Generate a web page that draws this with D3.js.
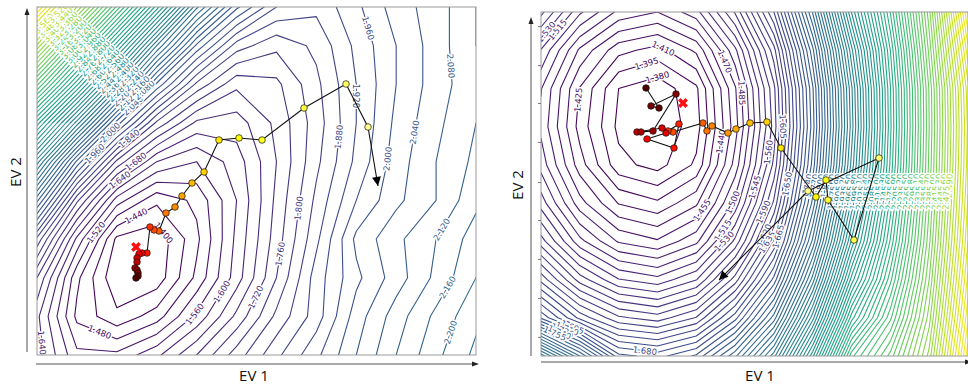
<!DOCTYPE html>
<html>
<head>
<meta charset="utf-8">
<script src="https://cdn.jsdelivr.net/npm/d3@7"></script>
<style>
  body { margin: 0; background: #fff; }
  svg text { font-family: "DejaVu Sans", sans-serif; }
  .title { font-family: "Open Sans", sans-serif; font-size: 15px; fill: #111; }
</style>
</head>
<body>
<svg id="chart" width="968" height="386"></svg>
<script>
// loss landscape, rows top -> bottom, cols left -> right
const leftLoss = [
  [3.77, 3.40, 3.03, 2.66, 2.29, 2.05, 1.92, 1.89, 1.95, 2.02, 2.06, 2.12],
  [3.43, 3.06, 2.69, 2.32, 2.03, 1.86, 1.81, 1.85, 1.93, 2.00, 2.06, 2.12],
  [3.09, 2.73, 2.36, 2.03, 1.83, 1.73, 1.75, 1.83, 1.92, 2.00, 2.06, 2.11],
  [2.74, 2.38, 2.02, 1.79, 1.67, 1.66, 1.73, 1.82, 1.92, 2.01, 2.07, 2.12],
  [2.42, 2.03, 1.75, 1.60, 1.56, 1.62, 1.72, 1.83, 1.93, 2.02, 2.08, 2.13],
  [2.13, 1.77, 1.54, 1.45, 1.49, 1.60, 1.73, 1.85, 1.96, 2.03, 2.08, 2.15],
  [1.87, 1.59, 1.39, 1.37, 1.47, 1.61, 1.74, 1.87, 2.01, 2.07, 2.12, 2.18],
  [1.72, 1.49, 1.365, 1.375, 1.49, 1.62, 1.76, 1.90, 1.99, 2.06, 2.13, 2.20],
  [1.65, 1.47, 1.41, 1.46, 1.57, 1.69, 1.81, 1.90, 2.02, 2.10, 2.17, 2.23],
  [1.66, 1.53, 1.53, 1.59, 1.68, 1.78, 1.87, 1.95, 2.04, 2.12, 2.19, 2.25]
];
const rightLoss = [
  [1.565, 1.503, 1.466, 1.455, 1.479, 1.547, 1.650, 1.817, 2.026, 2.206, 2.410, 2.660],
  [1.514, 1.452, 1.415, 1.404, 1.428, 1.496, 1.599, 1.766, 1.975, 2.175, 2.390, 2.620],
  [1.486, 1.424, 1.380, 1.370, 1.392, 1.468, 1.571, 1.738, 1.947, 2.159, 2.372, 2.590],
  [1.481, 1.419, 1.376, 1.367, 1.388, 1.463, 1.566, 1.733, 1.942, 2.156, 2.370, 2.584],
  [1.494, 1.432, 1.385, 1.374, 1.398, 1.476, 1.579, 1.746, 1.955, 2.163, 2.374, 2.588],
  [1.523, 1.461, 1.424, 1.413, 1.437, 1.505, 1.608, 1.775, 1.984, 2.181, 2.383, 2.597],
  [1.567, 1.505, 1.468, 1.457, 1.481, 1.549, 1.652, 1.819, 2.028, 2.207, 2.396, 2.610],
  [1.630, 1.568, 1.531, 1.520, 1.544, 1.612, 1.715, 1.882, 2.091, 2.245, 2.415, 2.629],
  [1.707, 1.645, 1.608, 1.597, 1.621, 1.689, 1.792, 1.959, 2.168, 2.291, 2.438, 2.652],
  [1.900, 1.800, 1.700, 1.689, 1.713, 1.781, 1.884, 2.051, 2.260, 2.346, 2.466, 2.680]
];
const leftStep = 0.04;
const rightStep = 0.015;

// optimiser trail in grid units (EV 1, EV 2), first point carries the arrow
const leftTrail = [
  [8.544, 4.629], [8.294, 3.103], [7.743, 1.991], [6.690, 2.612], [5.638, 3.440],
  [5.062, 3.388], [4.560, 3.440], [4.185, 4.267], [3.884, 4.552], [3.633, 4.888],
  [3.458, 5.172], [3.232, 5.328], [3.057, 5.793], [2.932, 5.767], [2.831, 5.690],
  [2.756, 6.362], [2.631, 6.362], [2.556, 6.388], [2.506, 6.491], [2.506, 6.595],
  [2.456, 6.750], [2.506, 6.802], [2.531, 6.879], [2.531, 6.957], [2.481, 7.009]
];
const leftBest = [2.481, 6.207];
const rightTrail = [
  [4.585, 7.012], [6.878, 4.683], [8.707, 3.820], [8.063, 5.965], [7.393, 4.919],
  [7.342, 4.395], [7.084, 4.840], [6.183, 3.558], [5.822, 2.878], [5.384, 2.904],
  [5.023, 3.061], [4.817, 3.166], [4.405, 2.983], [4.276, 3.113], [4.173, 2.904],
  [3.400, 3.140], [3.272, 3.113], [3.555, 2.930], [3.426, 3.558], [2.731, 3.323],
  [3.220, 3.166], [3.117, 3.035], [2.473, 3.140], [2.576, 3.140], [2.885, 3.113],
  [3.478, 2.145], [2.834, 2.459], [3.040, 2.512], [2.705, 1.988]
];
const rightBest = [3.658, 2.381];

// contour labels: [level, EV 1, EV 2]
const leftLabels = [
  [1.40, 3.23, 5.79], [1.44, 2.48, 5.40], [1.48, 1.55, 8.46], [1.52, 1.43, 5.79],
  [1.56, 3.91, 7.91], [1.60, 4.61, 7.35], [1.64, 0.08, 8.69], [1.64, 2.06, 4.45],
  [1.68, 2.43, 3.93], [1.72, 5.31, 7.42], [1.76, 6.11, 6.39], [1.80, 6.67, 5.22],
  [1.84, 2.36, 3.47], [1.88, 7.57, 3.36], [1.92, 8.07, 2.30], [1.96, 8.32, 0.54],
  [1.96, 1.43, 3.78], [2.00, 1.85, 3.26], [2.00, 8.80, 3.93], [2.04, 9.57, 3.26],
  [2.08, 10.30, 1.53], [2.12, 10.20, 5.79], [2.16, 10.32, 7.27], [2.20, 10.42, 8.43]
];
const rightLabels = [
  [1.380, 3.19, 1.31], [1.395, 2.60, 0.94], [1.410, 3.19, 0.86], [1.425, 1.00, 2.30],
  [1.440, 4.69, 3.40], [1.455, 4.02, 5.10], [1.470, 4.82, 1.26], [1.485, 5.20, 2.12],
  [1.500, 5.20, 5.10], [1.515, 4.66, 5.70], [1.530, 4.74, 6.02], [1.545, 5.77, 4.66],
  [1.560, 6.03, 3.69], [1.605, 6.42, 3.01], [1.680, 2.68, 8.82], [1.515, 0.18, 0.26],
  [1.530, 0.13, 0.52], [1.590, 5.90, 5.31], [1.620, 5.90, 5.91], [1.635, 5.98, 6.12],
  [1.665, 6.47, 5.97], [1.650, 6.80, 4.58], [1.695, 0.80, 8.27], [1.710, 0.64, 8.37],
  [1.725, 0.49, 8.48], [1.740, 0.39, 8.58], [1.755, 0.23, 8.69]
];
// crowded label runs: [first level, last level, EV 1 start, EV 2 start, EV 1 end, EV 2 end]
const leftRuns = [
  [2.04, 3.76, 0.08, 0.34, 2.58, 2.72],
  [2.04, 3.76, 0.45, 0.08, 3.03, 2.46]
];
const rightRuns = [
  [1.68, 2.67, 6.80, 4.55, 10.55, 4.55],
  [1.74, 2.67, 7.40, 4.86, 10.55, 4.86]
];
const rightTicks = [0.37, 1.39, 2.38, 3.40, 4.45, 5.44, 6.46, 7.48, 8.50];

const svg = d3.select('#chart');

const hot = d3.scaleLinear()
  .domain([0, 0.365, 0.746, 1])
  .range(['#0b0000', '#ff0000', '#ffff00', '#ffffff'])
  .clamp(true);

function drawPanel(p) {
  const ny = p.loss.length, nx = p.loss[0].length;
  const values = p.loss.flat();
  const x = d3.scaleLinear().domain([0, nx - 1]).range([p.x0, p.x1]);
  const y = d3.scaleLinear().domain([0, ny - 1]).range([p.y0, p.y1]);

  const kLo = Math.ceil(d3.min(values) / p.step - 1e-9);
  const kHi = Math.floor(d3.max(values) / p.step + 1e-9);
  const levels = d3.range(kLo, kHi + 1).map(k => +(k * p.step).toFixed(3));
  const color = d3.scaleSequential(d3.interpolateViridis)
    .domain([levels[0], levels[levels.length - 1]]);

  const contours = d3.contours().size([nx, ny]).thresholds(levels)(values);
  const proj = d3.geoTransform({
    point: function(px, py) { this.stream.point(x(px - 0.5), y(py - 0.5)); }
  });
  const path = d3.geoPath(proj);

  const clipId = 'clip' + p.id;
  svg.append('clipPath').attr('id', clipId)
    .append('rect')
    .attr('x', p.x0).attr('y', p.y0)
    .attr('width', p.x1 - p.x0).attr('height', p.y1 - p.y0);

  const g = svg.append('g').attr('clip-path', `url(#${clipId})`);

  g.selectAll('path.iso')
    .data(contours)
    .join('path')
    .attr('class', 'iso')
    .attr('d', path)
    .attr('fill', 'none')
    .attr('stroke', d => color(d.value))
    .attr('stroke-width', 1.1)
    .attr('stroke-linejoin', 'round');

  // rings of one level in pixels
  const inside = q => q[0] > p.x0 - 0.5 && q[0] < p.x1 + 0.5 && q[1] > p.y0 - 0.5 && q[1] < p.y1 + 0.5;
  function rings(level) {
    const c = contours.find(d => Math.abs(d.value - level) < 1e-6);
    if (!c) return [];
    const out = [];
    c.coordinates.forEach(poly => poly.forEach(r => {
      out.push(r.map(q => [x(q[0] - 0.5), y(q[1] - 0.5)]));
    }));
    return out;
  }
  function nearest(level, pt) {
    let best = null;
    rings(level).forEach(r => {
      for (let i = 1; i < r.length; i++) {
        const a = r[i - 1], b = r[i];
        if (!inside(a) || !inside(b)) continue;
        const dx = b[0] - a[0], dy = b[1] - a[1], L2 = dx * dx + dy * dy;
        if (!L2) continue;
        let t = ((pt[0] - a[0]) * dx + (pt[1] - a[1]) * dy) / L2;
        t = Math.max(0, Math.min(1, t));
        const q = [a[0] + t * dx, a[1] + t * dy];
        const d = Math.hypot(q[0] - pt[0], q[1] - pt[1]);
        if (!best || d < best.d) best = {d, q, ang: Math.atan2(dy, dx) * 180 / Math.PI};
      }
    });
    return best;
  }
  function crossing(level, s0, s1) {
    let hit = null;
    rings(level).forEach(r => {
      for (let i = 1; i < r.length && !hit; i++) {
        const a = r[i - 1], b = r[i];
        if (!inside(a) || !inside(b)) continue;
        const rx = b[0] - a[0], ry = b[1] - a[1];
        const sx = s1[0] - s0[0], sy = s1[1] - s0[1];
        const den = rx * sy - ry * sx;
        if (Math.abs(den) < 1e-9) continue;
        const t = ((s0[0] - a[0]) * sy - (s0[1] - a[1]) * sx) / den;
        const u = ((s0[0] - a[0]) * ry - (s0[1] - a[1]) * rx) / den;
        if (t >= 0 && t <= 1 && u >= 0 && u <= 1) {
          hit = {q: [a[0] + t * rx, a[1] + t * ry], ang: Math.atan2(ry, rx) * 180 / Math.PI};
        }
      }
    });
    return hit;
  }

  const labelData = [];
  p.labels.forEach(([v, ex, ey]) => {
    const n = nearest(v, [x(ex), y(ey)]);
    if (n) labelData.push({v, q: n.q, ang: n.ang});
  });
  p.runs.forEach(([v0, v1, ax, ay, bx, by], k) => {
    levels.filter(v => v >= v0 - 1e-6 && v <= v1 + 1e-6)
      .filter((v, i) => (i + k) % 2 === 0)
      .forEach(v => {
        const c = crossing(v, [x(ax), y(ay)], [x(bx), y(by)]);
        if (c) labelData.push({v, q: c.q, ang: c.ang});
      });
  });
  labelData.forEach(d => {
    while (d.ang > 90) d.ang -= 180;
    while (d.ang <= -90) d.ang += 180;
  });

  g.selectAll('text.lab')
    .data(labelData)
    .join('text')
    .attr('class', 'lab')
    .attr('transform', d => `translate(${d.q[0]},${d.q[1]}) rotate(${d.ang})`)
    .attr('text-anchor', 'middle')
    .attr('dy', '0.35em')
    .attr('font-size', 8.5)
    .attr('fill', d => color(d.v))
    .attr('stroke', '#fff')
    .attr('stroke-width', 3)
    .attr('stroke-linejoin', 'round')
    .attr('paint-order', 'stroke')
    .text(d => d.v.toFixed(3));

  // frame
  svg.append('rect')
    .attr('x', p.x0).attr('y', p.y0)
    .attr('width', p.x1 - p.x0).attr('height', p.y1 - p.y0)
    .attr('fill', 'none').attr('stroke', '#9a9a9a').attr('stroke-width', 1);

  // trail
  const line = d3.line().x(d => x(d[0])).y(d => y(d[1]));
  svg.append('path')
    .attr('d', line(p.trail))
    .attr('fill', 'none')
    .attr('stroke', '#111')
    .attr('stroke-width', 1.1);

  const n = p.trail.length;
  const pts = p.trail.slice(1);
  svg.selectAll(null)
    .data(pts)
    .join('circle')
    .attr('cx', d => x(d[0]))
    .attr('cy', d => y(d[1]))
    .attr('r', 3.3)
    .attr('fill', (d, i) => hot(0.88 - 0.78 * i / (n - 2)))
    .attr('stroke', '#111')
    .attr('stroke-width', 0.7);

  // arrow head at the first point
  const tip = [x(p.trail[0][0]), y(p.trail[0][1])];
  const prev = [x(p.trail[1][0]), y(p.trail[1][1])];
  const ang = Math.atan2(tip[1] - prev[1], tip[0] - prev[0]) * 180 / Math.PI;
  svg.append('path')
    .attr('d', 'M0,0 L-9,-4.5 L-9,4.5 Z')
    .attr('transform', `translate(${tip[0]},${tip[1]}) rotate(${ang})`)
    .attr('fill', '#000');

  svg.append('path')
    .attr('d', d3.symbol(d3.symbolCross, 60)())
    .attr('transform', `translate(${x(p.best[0])},${y(p.best[1])}) rotate(45)`)
    .attr('fill', '#ff1010');

  return {x, y};
}

function axisArrows(ax, ayTop, ayBottom, bx0, bx1, by) {
  svg.append('line').attr('x1', ax).attr('x2', ax).attr('y1', ayBottom).attr('y2', ayTop + 4)
    .attr('stroke', '#555').attr('stroke-width', 1);
  svg.append('path').attr('d', `M${ax},${ayTop} L${ax - 2.5},${ayTop + 7} L${ax + 2.5},${ayTop + 7} Z`)
    .attr('fill', '#222');
  svg.append('line').attr('x1', bx0).attr('x2', bx1 - 4).attr('y1', by).attr('y2', by)
    .attr('stroke', '#555').attr('stroke-width', 1);
  svg.append('path').attr('d', `M${bx1},${by} L${bx1 - 7},${by - 2.5} L${bx1 - 7},${by + 2.5} Z`)
    .attr('fill', '#222');
}

drawPanel({id: 'L', loss: leftLoss, step: leftStep, x0: 37, x1: 476, y0: 7, y1: 355,
  trail: leftTrail, best: leftBest, labels: leftLabels, runs: leftRuns});
const right = drawPanel({id: 'R', loss: rightLoss, step: rightStep, x0: 541, x1: 968, y0: 12, y1: 356,
  trail: rightTrail, best: rightBest, labels: rightLabels, runs: rightRuns});

svg.append('g')
  .attr('transform', 'translate(541,0)')
  .call(d3.axisLeft(right.y).tickValues(rightTicks).tickSize(3).tickFormat(''))
  .call(g => g.select('.domain').remove())
  .call(g => g.selectAll('line').attr('stroke', '#777'));

axisArrows(27, 8, 352, 36, 479, 364);
axisArrows(531, 17, 356, 541, 972, 362);

svg.append('text').attr('class', 'title')
  .attr('transform', 'translate(21,172) rotate(-90)')
  .attr('text-anchor', 'middle').text('EV 2');
svg.append('text').attr('class', 'title')
  .attr('x', 254).attr('y', 381).attr('text-anchor', 'middle').text('EV 1');
svg.append('text').attr('class', 'title')
  .attr('transform', 'translate(523,185) rotate(-90)')
  .attr('text-anchor', 'middle').text('EV 2');
svg.append('text').attr('class', 'title')
  .attr('x', 760).attr('y', 381).attr('text-anchor', 'middle').text('EV 1');
</script>
</body>
</html>
